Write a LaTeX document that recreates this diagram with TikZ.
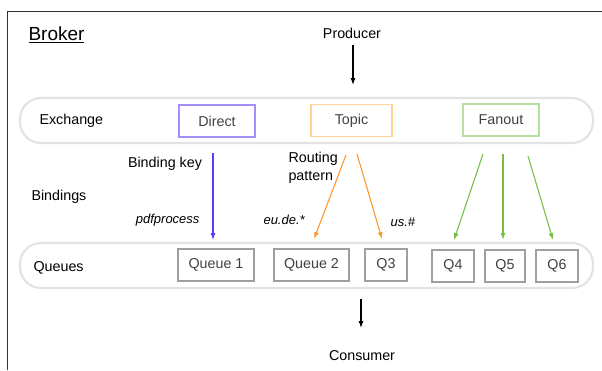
\documentclass[tikz,border=0pt]{standalone}
\usepackage{fontspec}
\setmainfont{Liberation Sans}
\usetikzlibrary{arrows.meta}

\definecolor{dirline}{RGB}{165,140,255}
\definecolor{topline}{RGB}{255,210,150}
\definecolor{fanline}{RGB}{180,225,160}
\definecolor{dirarrow}{RGB}{90,60,255}
\definecolor{toparrow}{RGB}{255,150,50}
\definecolor{fanarrow}{RGB}{120,190,70}

\begin{document}
\begin{tikzpicture}[x=1pt,y=-1pt,
  every node/.style={font=\fontsize{14.3}{17}\selectfont},
  band/.style={draw=gray!22,line width=2.2pt,rounded corners=21pt},
  xbox/.style={draw=#1,line width=1.1pt,minimum height=32pt,text=black!75,inner sep=0pt},
  qbox/.style={draw=gray!75,line width=1.2pt,minimum height=32pt,text=black!75,inner sep=0pt},
  arr/.style={-{Latex[length=7pt,width=5pt]},line width=1.1pt},
  key/.style={font=\fontsize{13}{15}\selectfont\itshape}]

\useasboundingbox (0,0) rectangle (602,370);

% Broker frame
\draw [line width=1pt,black!80] (7,370) -- (7,11) -- (602,11);
\node (broker) at (25,35) [anchor=west,font=\fontsize{19}{22}\selectfont] {\underline{Broker}};

% Bands
\draw [band] (20,98) rectangle (593,143);
\draw [band] (20,243) rectangle (593,288);
\node (exlabel) at (36,121) [anchor=west] {Exchange};
\node (qlabel) at (30,268) [anchor=west] {Queues};
\node (bindlabel) at (28,197) [anchor=west] {Bindings};

% Exchanges
\node (direct) at (217,121) [xbox=dirline,minimum width=76pt] {Direct};
\node (topic) at (351.5,120.5) [xbox=topline,minimum width=81pt] {Topic};
\node (fanout) at (501,120) [xbox=fanline,minimum width=76pt] {Fanout};

% Queues
\node (q1) at (216,265) [qbox,minimum width=76pt] {Queue 1};
\node (q2) at (311.5,265) [qbox,minimum width=75pt] {Queue 2};
\node (q3) at (386,265) [qbox,minimum width=42pt] {Q3};
\node (q4) at (453,266) [qbox,minimum width=42pt] {Q4};
\node (q5) at (505,266) [qbox,minimum width=40pt] {Q5};
\node (q6) at (557,266) [qbox,minimum width=42pt] {Q6};

% Producer / Consumer
\node (producer) at (352,33) {Producer};
\node (consumer) at (362,356) {Consumer};
\coordinate (pin) at (353,45);
\coordinate (pout) at (353,85);
\coordinate (cin) at (361,299);
\coordinate (cout) at (361,328);
\draw [arr] (pin) -- (pout);
\draw [arr] (cin) -- (cout);

% Binding labels
\node (bkey) at (165,164) {Binding key};
\node (rpat) at (285,168) [anchor=west,align=left,font=\fontsize{14.3}{18}\selectfont] {Routing\\pattern};
\node (kpdf) at (203,220) [anchor=east,key] {pdfprocess};
\node (keu) at (260,220) [anchor=west,key] {eu.de.*};
\node (kus) at (387,222) [anchor=west,key] {us.\#};

% Bindings
\coordinate (d1) at (213,153);
\coordinate (d2) at (213,240);
\draw [arr,dirarrow] (d1) -- (d2);
\coordinate (t1) at (346,155);
\coordinate (t2) at (314,239);
\coordinate (t3) at (357,154);
\coordinate (t4) at (382,239);
\draw [arr,toparrow] (t1) -- (t2);
\draw [arr,toparrow] (t3) -- (t4);
\coordinate (f1) at (483,154);
\coordinate (f2) at (454,240);
\coordinate (f3) at (503,154);
\coordinate (f4) at (503,240);
\coordinate (f5) at (528,156);
\coordinate (f6) at (553,240);
\draw [arr,fanarrow] (f1) -- (f2);
\draw [arr,fanarrow] (f3) -- (f4);
\draw [arr,fanarrow] (f5) -- (f6);

\end{tikzpicture}
\end{document}
